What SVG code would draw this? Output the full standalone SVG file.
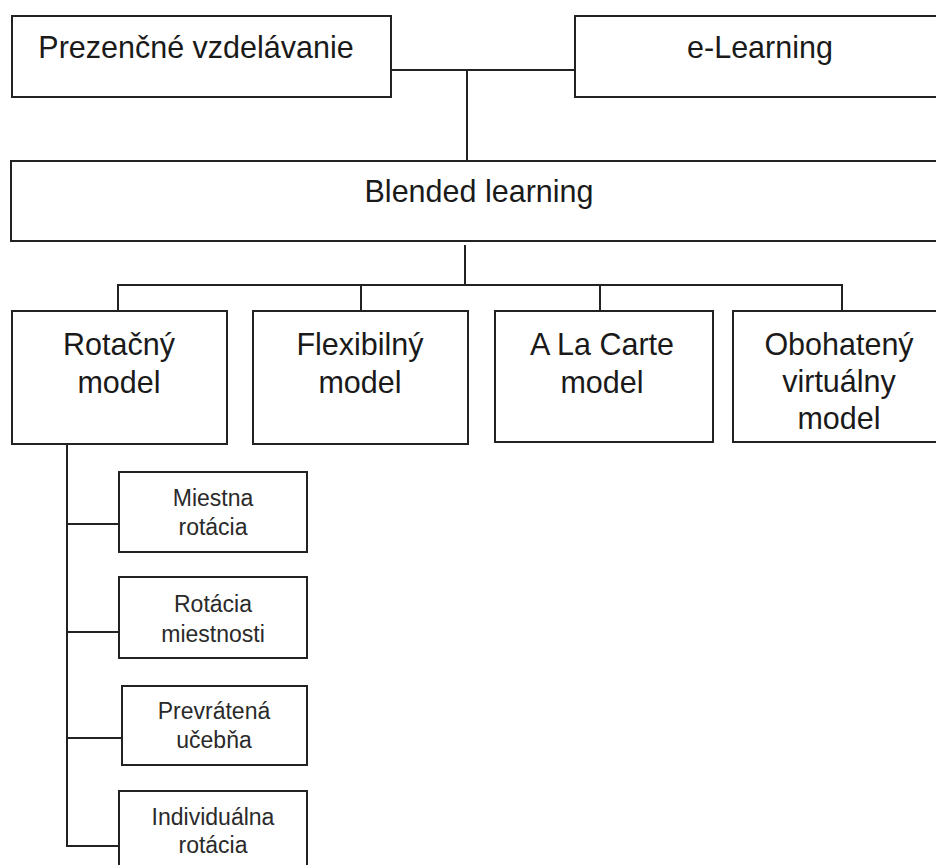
<svg xmlns="http://www.w3.org/2000/svg" width="936" height="865" viewBox="0 0 936 865">
<style>
.box{fill:#fff;stroke:#222;stroke-width:2}
.conn line{stroke:#222;stroke-width:2}
text{font-family:"Liberation Sans",Arial,sans-serif;fill:#1a1a1a;text-anchor:middle}
.big{font-size:30.5px}
.small{font-size:23px;fill:#2a2a2a}
</style>
<rect width="936" height="865" fill="#fff"/>
<g id="connectors" class="conn">
<line x1="391" y1="70" x2="576" y2="70"/>
<line x1="467" y1="70" x2="467" y2="161"/>
<line x1="465" y1="245" x2="465" y2="285"/>
<line x1="117" y1="285" x2="843" y2="285"/>
<line x1="118" y1="284" x2="118" y2="311"/>
<line x1="361" y1="284" x2="361" y2="311"/>
<line x1="600" y1="284" x2="600" y2="311"/>
<line x1="842" y1="284" x2="842" y2="311"/>
<line x1="67" y1="444" x2="67" y2="847"/>
<line x1="66" y1="524" x2="119" y2="524"/>
<line x1="66" y1="632" x2="119" y2="632"/>
<line x1="66" y1="738" x2="122" y2="738"/>
<line x1="66" y1="846" x2="119" y2="846"/>
</g>
<g id="prezencne">
<rect class="box" x="12" y="16" width="379" height="81"/>
<text class="big" x="196" y="58">Prezenčné vzdelávanie</text>
</g>
<g id="elearning">
<rect class="box" x="575" y="16" width="380" height="81"/>
<text class="big" x="760" y="58">e-Learning</text>
</g>
<g id="blended">
<rect class="box" x="11" y="161" width="945" height="80"/>
<text class="big" x="479" y="202">Blended learning</text>
</g>
<g id="rotacny">
<rect class="box" x="12" y="311" width="215" height="133"/>
<text class="big" x="119" y="355">Rotačný</text>
<text class="big" x="119" y="393">model</text>
</g>
<g id="flexibilny">
<rect class="box" x="253" y="311" width="215" height="133"/>
<text class="big" x="360" y="355">Flexibilný</text>
<text class="big" x="360" y="393">model</text>
</g>
<g id="alacarte">
<rect class="box" x="495" y="311" width="218" height="131"/>
<text class="big" x="602" y="355">A La Carte</text>
<text class="big" x="602" y="393">model</text>
</g>
<g id="obohateny">
<rect class="box" x="733" y="311" width="220" height="131"/>
<text class="big" x="839" y="355">Obohatený</text>
<text class="big" x="839" y="392">virtuálny</text>
<text class="big" x="839" y="429">model</text>
</g>
<g id="miestna">
<rect class="box" x="119" y="472" width="188" height="80"/>
<text class="small" x="213" y="506">Miestna</text>
<text class="small" x="213" y="535">rotácia</text>
</g>
<g id="rotacia-miestnosti">
<rect class="box" x="119" y="577" width="188" height="81"/>
<text class="small" x="213" y="612">Rotácia</text>
<text class="small" x="213" y="642">miestnosti</text>
</g>
<g id="prevratena">
<rect class="box" x="122" y="686" width="185" height="79"/>
<text class="small" x="214" y="719">Prevrátená</text>
<text class="small" x="214" y="748">učebňa</text>
</g>
<g id="individualna">
<rect class="box" x="119" y="791" width="188" height="90"/>
<text class="small" x="213" y="825">Individuálna</text>
<text class="small" x="213" y="853">rotácia</text>
</g>
</svg>
